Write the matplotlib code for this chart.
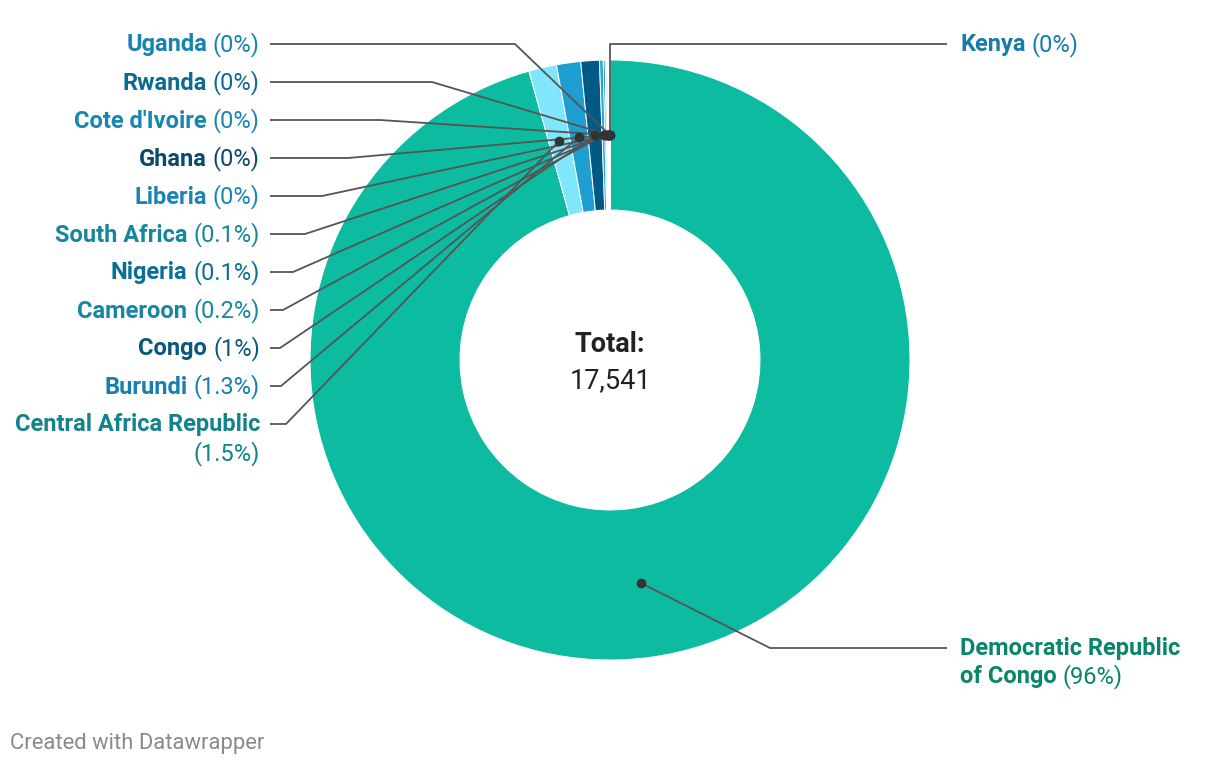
import matplotlib.pyplot as plt
import numpy as np

plt.rcParams['font.family'] = ['Roboto', 'DejaVu Sans']

# data, clockwise from 12 o'clock
countries = ['Democratic Republic\nof Congo', 'Central Africa Republic', 'Burundi', 'Congo',
             'Cameroon', 'Nigeria', 'South Africa', 'Liberia', 'Ghana',
             "Cote d'Ivoire", 'Rwanda', 'Uganda', 'Kenya']
counts = [16777, 263, 228, 175, 35, 18, 14, 8, 7, 6, 5, 4, 1]
pct_labels = ['96%', '1.5%', '1.3%', '1%', '0.2%', '0.1%', '0.1%',
              '0%', '0%', '0%', '0%', '0%', '0%']

slice_colors = ['#0cbba0', '#80e6fb', '#1e9fcf', '#005a85', '#26a7d4', '#0f84b2',
                '#62d2ea', '#3bb0e0', '#005a85', '#45b8e6', '#1380ad', '#3aafe0', '#2fa0d6']
label_colors = ['#08866a', '#12838a', '#167fae', '#09577e', '#1786a4', '#0a6f95',
                '#15869b', '#1a84b4', '#0a4a6e', '#1786b1', '#0d6b93', '#1783b1', '#177bac']

# label layout (pixel coords, y from top): text anchor y and elbow point
label_y = [648, 424, 386, 348, 310, 272, 234, 196, 158, 120, 82, 44, 44]
elbow_x = [770, 286, 281, 280, 283, 293, 305, 322, 348, 380, 432, 515, 610]

W, H = 1220, 766
fig = plt.figure(figsize=(W / 100, H / 100), dpi=100)
ax = fig.add_axes([0, 0, 1, 1])

cx, cy = 610, H - 360
R = 300
wedges, _ = ax.pie(counts, colors=slice_colors, startangle=90, counterclock=False,
                   radius=R, center=(cx, cy), frame=True,
                   wedgeprops=dict(width=150, edgecolor='white', linewidth=0.7))
ax.set_xlim(0, W)
ax.set_ylim(0, H)
ax.set_aspect('equal')
ax.axis('off')

total = sum(counts)
ax.text(cx, H - 344, 'Total:', ha='center', va='center', fontsize=19.5,
        fontweight='bold', color='#222222')
ax.text(cx, H - 381, f'{total:,}', ha='center', va='center', fontsize=19.5,
        color='#222222')

fig.canvas.draw()
renderer = fig.canvas.get_renderer()

fs = 17
tdy = -1  # text sits a pixel lower than the leader line
line_col = '#555555'
for i, w in enumerate(wedges):
    mid = np.deg2rad((w.theta1 + w.theta2) / 2)
    dx = cx + 225 * np.cos(mid)
    dy = cy + 225 * np.sin(mid)
    ly = H - label_y[i]
    ex = elbow_x[i]
    right = i == 0 or i == len(wedges) - 1
    if right:
        ax.plot([dx, ex, 947], [dy, ly, ly], color=line_col, lw=1.3,
                solid_capstyle='butt', zorder=3)
    else:
        ax.plot([dx, ex, 270], [dy, ly, ly], color=line_col, lw=1.3,
                solid_capstyle='butt', zorder=3)
    ax.plot(dx, dy, 'o', color='#333333', ms=6, zorder=4)

    name = countries[i]
    pct = '(' + pct_labels[i] + ')'
    col = label_colors[i]
    ty = ly + tdy
    if right:
        lines = name.split('\n')
        for k, ln in enumerate(lines[:-1]):
            ax.text(960, ty - 28 * k, ln, ha='left', va='center', fontsize=fs,
                    fontweight='bold', color=col)
        yl = ty - 28 * (len(lines) - 1)
        t = ax.text(960, yl, lines[-1], ha='left', va='center', fontsize=fs,
                    fontweight='bold', color=col)
        bb = t.get_window_extent(renderer)
        ax.text(bb.x1 + 6, yl, pct, ha='left', va='center', fontsize=fs, color=col)
    elif name == 'Central Africa Republic':
        ax.text(260, ty, name, ha='right', va='center', fontsize=fs,
                fontweight='bold', color=col)
        ax.text(260, ty - 29, pct, ha='right', va='center', fontsize=fs, color=col)
    else:
        t = ax.text(260, ty, pct, ha='right', va='center', fontsize=fs, color=col)
        bb = t.get_window_extent(renderer)
        ax.text(bb.x0 - 6, ty, name, ha='right', va='center', fontsize=fs,
                fontweight='bold', color=col)

ax.text(10, H - 743, 'Created with Datawrapper', ha='left', va='center',
        fontsize=15.8, color='#8a8a8a')

fig.savefig('out.png', dpi=100)
